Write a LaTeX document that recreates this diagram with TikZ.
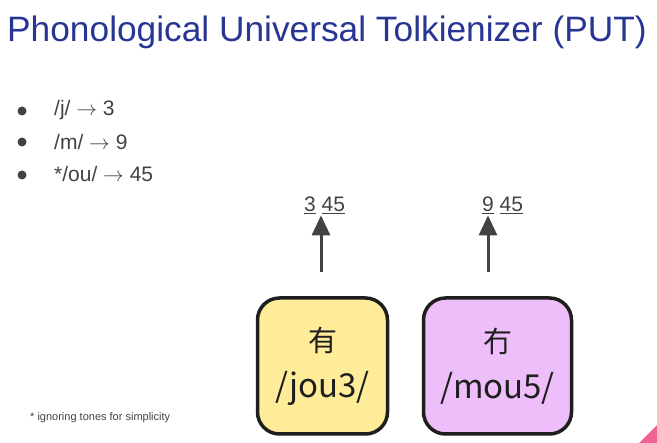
\documentclass[tikz,border=0pt]{standalone}
\usepackage{fontspec}
\setmainfont{Liberation Sans}
\newfontfamily\cjkfont{Noto Sans CJK SC}
\usetikzlibrary{arrows.meta,positioning}

\definecolor{titleblue}{RGB}{40,53,147}
\definecolor{textgray}{RGB}{66,66,66}
\definecolor{boxyellow}{RGB}{255,236,153}
\definecolor{boxpurple}{RGB}{238,190,250}
\definecolor{inkblack}{RGB}{30,30,30}
\definecolor{cornerpink}{RGB}{240,98,146}

\newcommand{\sound}[1]{{\fontsize{33}{40}\selectfont #1}}

\begin{document}
\begin{tikzpicture}[x=1pt, y=-1pt,
  item/.style={anchor=base west, inner sep=0pt, text=textgray, font=\fontsize{21}{25}\selectfont},
  dot/.style={fill=textgray},
  charbox/.style={draw=inkblack, line width=3.5pt, rounded corners=22pt, minimum height=136pt, align=center, text=inkblack, font=\cjkfont\fontsize{29}{46}\selectfont},
  code/.style={anchor=base, inner sep=1pt, text=textgray, font=\fontsize{21}{25}\selectfont},
  uparrow/.style={-{Triangle[width=18pt,length=20pt]}, line width=3pt, draw=textgray}]
  \useasboundingbox (0,0) rectangle (657,443);

  \node[anchor=base west, inner sep=0pt, text=titleblue, font=\fontsize{35.3}{40}\selectfont] (title) at (7,42) {Phonological Universal Tolkienizer (PUT)};

  % bullet list
  \node[item] (itemj) at (54,116) {/j/ $\rightarrow$ 3};
  \node[item] (itemm) at (54,150) {/m/ $\rightarrow$ 9};
  \node[item] (itemou) at (54,182) {*/ou/ $\rightarrow$ 45};
  \foreach \y in {111,142,175}
    \fill[dot] (22,\y) circle (4.5);

  % character boxes
  \node[charbox, fill=boxyellow, minimum width=130pt] (jou) at (322.5,366) {有\\\sound{/jou3/}};
  \node[charbox, fill=boxpurple, minimum width=148pt] (mou) at (497.5,366) {冇\\\sound{/mou5/}};

  % codes
  \node[code] (jcode) at (324.5,212) {\underline{3} \underline{45}};
  \node[code] (mcode) at (502.5,212) {\underline{9} \underline{45}};
  \coordinate (jstart) at (321,272);
  \coordinate (mstart) at (488,272);
  \draw[uparrow] (jstart) -- (jstart |- jcode.south);
  \draw[uparrow] (mstart) -- (mstart |- mcode.south);

  \node[anchor=base west, inner sep=0pt, text=textgray, font=\fontsize{11}{13}\selectfont] (note) at (30,421) {* ignoring tones for simplicity};

  \fill[cornerpink] (639,443) -- (657,443) -- (657,425) -- cycle;
\end{tikzpicture}
\end{document}
